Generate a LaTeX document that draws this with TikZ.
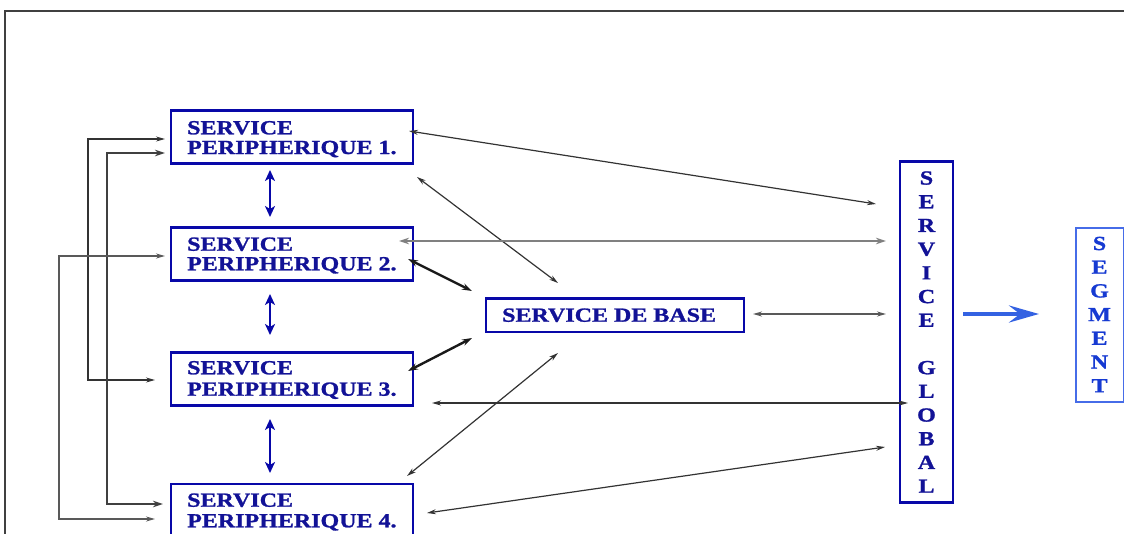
\documentclass[tikz,border=0pt]{standalone}
\usepackage{fontspec}
\usetikzlibrary{arrows.meta}
\newfontfamily\labfont{Liberation Serif}[FakeStretch=1.2,FakeBold=1.2]
\definecolor{boxblue}{RGB}{8,8,168}
\definecolor{txtblue}{RGB}{18,18,150}
\definecolor{segblue}{RGB}{70,108,232}
\definecolor{segtxt}{RGB}{22,58,210}
\definecolor{bigblue}{RGB}{52,98,226}
\tikzset{
  smalltip/.tip={Stealth[length=9pt,width=5pt]},
  largetip/.tip={Stealth[length=10pt,width=6.5pt]},
  bluetip/.tip={Stealth[length=11pt,width=10pt,inset=3pt]},
  hugetip/.tip={Stealth[length=30pt,width=17pt,inset=11pt]}
}
\begin{document}
\begin{tikzpicture}[x=1pt,y=-1pt,
  pbox/.style={draw=boxblue,line width=2.5pt,minimum width=242pt,minimum height=53pt,inner sep=0pt},
  bbox/.style={draw=boxblue,line width=2.5pt,inner sep=0pt},
  lab/.style={text=txtblue,font=\labfont\bfseries\fontsize{20}{20}\selectfont,inner sep=0pt,anchor=base west},
  stack/.style={font=\labfont\bfseries\fontsize{20}{23.7}\selectfont,align=center,inner sep=0pt},
  thinl/.style={draw=black!80,line width=1.2pt,smalltip-smalltip},
  heavy/.style={draw=black!90,line width=2.4pt,largetip-largetip},
  greyl/.style={draw=black!50,line width=2.4pt,largetip-largetip},
  midl/.style={draw=black!65,line width=1.6pt,smalltip-smalltip},
  varr/.style={draw=boxblue,line width=2.6pt,bluetip-bluetip},
  bigarr/.style={draw=bigblue,line width=4.5pt,-hugetip}
]
\useasboundingbox (0,0) rectangle (1124,533);
% outer frame
\draw[black!75,line width=2pt] (5,545) -- (5,11) -- (1135,11);

% peripheral services
\node[pbox] (p1) at (292,137) {};
\node[lab] (p1a) at (187,134.3) {SERVICE};
\node[lab] (p1b) at (187,154) {PERIPHERIQUE 1.};
\node[pbox] (p2) at (292,254) {};
\node[lab] (p2a) at (187,250.7) {SERVICE};
\node[lab] (p2b) at (187,270.3) {PERIPHERIQUE 2.};
\node[pbox] (p3) at (292,379) {};
\node[lab] (p3a) at (187,374.3) {SERVICE};
\node[lab] (p3b) at (187,395.7) {PERIPHERIQUE 3.};
\node[pbox] (p4) at (292,510.5) {};
\node[lab] (p4a) at (187,506.7) {SERVICE};
\node[lab] (p4b) at (187,527.3) {PERIPHERIQUE 4.};

% base service
\node[bbox,minimum width=258pt,minimum height=33.5pt] (base) at (615,315) {};
\node[lab] (basel) at (502,321.7) {SERVICE DE BASE};

% global service and segment
\node[bbox,stack,text=txtblue,minimum width=53pt,minimum height=341pt] (glob) at (926.5,332)
  {S\\E\\R\\V\\I\\C\\E\\[23.7pt]G\\L\\O\\B\\A\\L};
\node[draw=segblue,line width=2pt,stack,text=segtxt,minimum width=48pt,minimum height=174pt] (seg) at (1099.5,314.5)
  {S\\E\\G\\M\\E\\N\\T};

% connector end points
\coordinate (v1a) at (270,170); \coordinate (v1b) at (270,217);
\coordinate (v2a) at (270,294); \coordinate (v2b) at (270,335);
\coordinate (v3a) at (270,419); \coordinate (v3b) at (270,473);

\coordinate (a1) at (409,131);   \coordinate (b1) at (876,204);
\coordinate (a2) at (417,177);   \coordinate (b2) at (558,283);
\coordinate (a3) at (399,241);   \coordinate (b3) at (886,241);
\coordinate (a4) at (408,259);   \coordinate (b4) at (472,291);
\coordinate (a5) at (408,371);   \coordinate (b5) at (472,338);
\coordinate (a6) at (753,314);   \coordinate (b6) at (886,314);
\coordinate (a7) at (407,476);   \coordinate (b7) at (558,353);
\coordinate (a8) at (432,403);   \coordinate (b8) at (908,403);
\coordinate (a9) at (427,513);   \coordinate (b9) at (885,447);

\coordinate (l1a) at (165,139);  \coordinate (l1b) at (155,380);
\coordinate (l2a) at (165,153);  \coordinate (l2b) at (163,504);
\coordinate (l3a) at (165,256);  \coordinate (l3b) at (155,519);

\coordinate (ga) at (963,314);   \coordinate (gb) at (1039,314);

% links between the peripheral services
\draw[varr] (v1a) -- (v1b);
\draw[varr] (v2a) -- (v2b);
\draw[varr] (v3a) -- (v3b);

% links to the base and global services
\draw[thinl] (a1) -- (b1);
\draw[thinl] (a2) -- (b2);
\draw[greyl] (a3) -- (b3);
\draw[heavy] (a4) -- (b4);
\draw[heavy] (a5) -- (b5);
\draw[midl]  (a6) -- (b6);
\draw[thinl] (a7) -- (b7);
\draw[thinl] (a8) -- (b8);
\draw[thinl] (a9) -- (b9);

% loops on the left side
\draw[thinl] (l1a) -- ++(-77,0) |- (l1b);
\draw[heavy,draw=black!75] (l2a) -- ++(-58,0) |- (l2b);
\draw[midl] (l3a) -- ++(-106,0) |- (l3b);

% global service to segment
\draw[bigarr] (ga) -- (gb);
\end{tikzpicture}
\end{document}
